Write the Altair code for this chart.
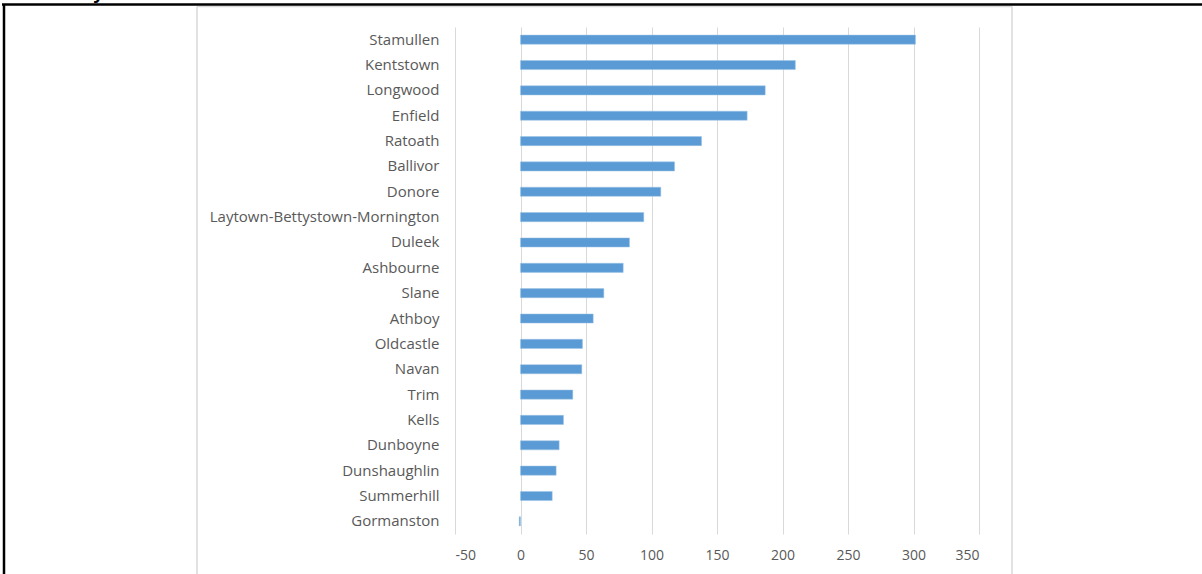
import altair as alt
import pandas as pd

towns = ["Stamullen", "Kentstown", "Longwood", "Enfield", "Ratoath", "Ballivor",
         "Donore", "Laytown-Bettystown-Mornington", "Duleek", "Ashbourne", "Slane",
         "Athboy", "Oldcastle", "Navan", "Trim", "Kells", "Dunboyne", "Dunshaughlin",
         "Summerhill", "Gormanston"]
values = [301.5, 209.8, 186.8, 173.0, 138.2, 117.6, 107.1, 94.1, 83.2, 78.4, 63.6,
          55.5, 47.3, 46.8, 39.9, 32.8, 29.5, 27.2, 24.2, -1.0]
x_ticks = [-50, 0, 50, 100, 150, 200, 250, 300, 350]

df = pd.DataFrame({"town": towns, "value": values})

W, H = 524, 507
PL, PT = 455, 27
FONT = "Open Sans"

bars = alt.Chart(df).mark_bar(color="#5b9bd5", stroke="#9cc3e5", strokeWidth=0.5).encode(
    x=alt.X("value:Q", scale=alt.Scale(domain=[-50, 350], nice=False, zero=False),
            axis=alt.Axis(values=x_ticks, title=None, grid=True, gridColor="#d9d9d9",
                          domain=False, ticks=False, labelColor="#595959", labelFontSize=14,
                          labelFont=FONT, labelPadding=14,
                          labelExpr="toString(datum.value)")),
    y=alt.Y("town:N", sort=towns,
            scale=alt.Scale(paddingInner=0.64, paddingOuter=0.32),
            axis=alt.Axis(title=None, domain=False, ticks=False, grid=False,
                          labelColor="#595959", labelFontSize=15, labelFont=FONT,
                          labelPadding=16, labelLimit=400, labelBaseline="middle")),
)

frame_gray_v = alt.Chart(pd.DataFrame({"x": [197 - PL, 1012 - PL]})).mark_rule(
    color="#d9d9d9", strokeWidth=1.5).encode(
    x=alt.X("x:Q", scale=None, axis=None), y=alt.value(6.5 - PT), y2=alt.value(574 - PT))
frame_gray_h = alt.Chart(pd.DataFrame({"a": [0]})).mark_rule(color="#d9d9d9", strokeWidth=1.5).encode(
    x=alt.value(197 - PL), x2=alt.value(1012 - PL), y=alt.value(6.5 - PT))
black_h = alt.Chart(pd.DataFrame({"a": [0]})).mark_rule(color="#000000", strokeWidth=2.5).encode(
    x=alt.value(2 - PL), x2=alt.value(1202 - PL), y=alt.value(4.5 - PT))
black_v = alt.Chart(pd.DataFrame({"a": [0]})).mark_rule(color="#000000", strokeWidth=2.5).encode(
    x=alt.value(4 - PL), y=alt.value(4 - PT), y2=alt.value(574 - PT))
cut_text = alt.Chart(pd.DataFrame({"t": ["y"]})).mark_text(
    fontSize=20, fontWeight="bold", font="Liberation Sans", align="left",
    baseline="alphabetic", color="#000000").encode(
    text="t:N", x=alt.value(93 - PL), y=alt.value(-1.5 - PT))

chart = alt.layer(bars, frame_gray_v, frame_gray_h, black_h, black_v, cut_text).properties(
    width=W, height=H,
    background="white",
    autosize=alt.AutoSizeParams(type="none"),
    padding={"left": PL, "top": PT, "right": 1202 - PL - W, "bottom": 574 - PT - H},
).configure_view(stroke=None, strokeWidth=0)

chart.save("out.html", embed_options={"renderer": "svg", "actions": False})
